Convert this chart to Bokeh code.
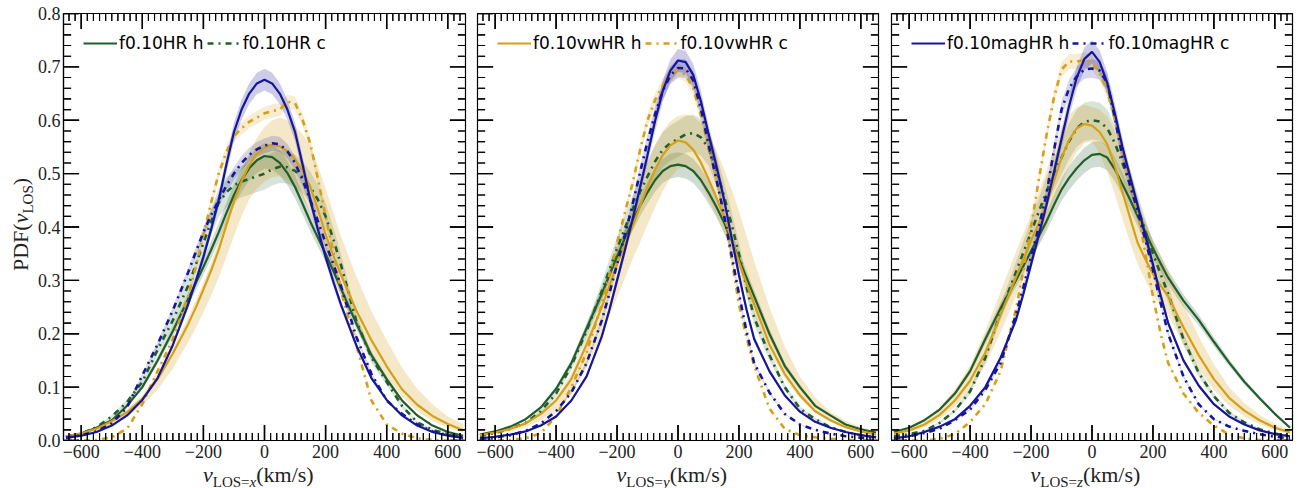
from bokeh.plotting import figure
from bokeh.models import Range1d, FixedTicker, LinearAxis, Legend, LegendItem, NumeralTickFormatter, Div
from bokeh.layouts import row, column
from bokeh.embed import file_html
from bokeh.resources import INLINE

# ---------------- data ----------------
V = [-650, -600, -550, -500, -450, -400, -350, -300,
     -250, -225, -200, -175, -150, -125, -100, -75, -50, -25, 0, 25, 50, 75, 100, 125, 150, 175, 200, 225, 250,
     300, 350, 400, 450, 500, 550, 600, 650]

# LOS = x
x_HR_h = [0.008, 0.013, 0.024, 0.038, 0.065, 0.10, 0.15, 0.205,
          0.265, 0.295, 0.325, 0.357, 0.39, 0.426, 0.46, 0.488, 0.51, 0.525, 0.533, 0.531, 0.52, 0.501, 0.475,
          0.443, 0.41, 0.38, 0.35, 0.318, 0.285,
          0.22, 0.16, 0.115, 0.075, 0.047, 0.028, 0.016, 0.009]
x_HR_c = [0.007, 0.013, 0.025, 0.045, 0.072, 0.11, 0.17, 0.225,
          0.29, 0.329, 0.37, 0.41, 0.445, 0.465, 0.478, 0.485, 0.49, 0.495, 0.50, 0.508, 0.513, 0.512, 0.505,
          0.493, 0.475, 0.451, 0.42, 0.378, 0.33,
          0.225, 0.155, 0.11, 0.065, 0.034, 0.02, 0.012, 0.007]
x_vw_h = [0.008, 0.013, 0.022, 0.036, 0.053, 0.078, 0.115, 0.163,
          0.218, 0.249, 0.283, 0.318, 0.357, 0.403, 0.448, 0.486, 0.516, 0.537, 0.549, 0.554, 0.551, 0.542, 0.527,
          0.505, 0.475, 0.432, 0.386, 0.347, 0.311,
          0.244, 0.188, 0.139, 0.096, 0.067, 0.046, 0.031, 0.019]
x_vw_h_hi = [0.009, 0.015, 0.025, 0.04, 0.058, 0.085, 0.124, 0.173,
             0.23, 0.262, 0.296, 0.332, 0.372, 0.419, 0.465, 0.505, 0.54, 0.567, 0.587, 0.600, 0.605, 0.600, 0.589,
             0.574, 0.551, 0.515, 0.472, 0.427, 0.383,
             0.308, 0.242, 0.188, 0.137, 0.097, 0.068, 0.045, 0.031]
x_vw_h_lo = [0.0065, 0.011, 0.018, 0.029, 0.044, 0.065, 0.095, 0.135,
             0.184, 0.211, 0.24, 0.271, 0.305, 0.344, 0.383, 0.42, 0.452, 0.472, 0.485, 0.493, 0.495, 0.489, 0.475,
             0.455, 0.428, 0.391, 0.351, 0.313, 0.277,
             0.216, 0.163, 0.119, 0.082, 0.055, 0.036, 0.024, 0.015]
x_vw_c = [0.0, 0.0, 0.001, 0.006, 0.022, 0.068, 0.13, 0.19,
          0.27, 0.325, 0.385, 0.445, 0.50, 0.54, 0.57, 0.585, 0.597, 0.605, 0.613, 0.617, 0.62, 0.635, 0.632,
          0.60, 0.556, 0.49, 0.42, 0.355, 0.28,
          0.18, 0.075, 0.03, 0.013, 0.004, 0.001, 0.0, 0.0]
x_mag_h = [0.005, 0.009, 0.016, 0.028, 0.047, 0.076, 0.117, 0.179,
           0.255, 0.298, 0.344, 0.395, 0.45, 0.516, 0.578, 0.62, 0.65, 0.669, 0.676, 0.669, 0.65, 0.62, 0.578,
           0.516, 0.45, 0.395, 0.344, 0.298, 0.255,
           0.179, 0.117, 0.076, 0.047, 0.028, 0.016, 0.009, 0.005]
x_mag_c = [0.005, 0.01, 0.017, 0.032, 0.062, 0.122, 0.18, 0.244,
           0.315, 0.353, 0.39, 0.422, 0.45, 0.477, 0.50, 0.52, 0.535, 0.5455, 0.552, 0.557, 0.555, 0.542, 0.52,
           0.488, 0.45, 0.411, 0.37, 0.331, 0.29,
           0.195, 0.125, 0.075, 0.05, 0.03, 0.017, 0.01, 0.006]

# LOS = y
y_HR_h = [0.011, 0.017, 0.026, 0.04, 0.062, 0.097, 0.145, 0.21,
          0.275, 0.31, 0.345, 0.378, 0.41, 0.439, 0.465, 0.488, 0.505, 0.514, 0.517, 0.514, 0.505, 0.488, 0.465,
          0.439, 0.41, 0.376, 0.34, 0.305, 0.27,
          0.20, 0.14, 0.10, 0.065, 0.047, 0.03, 0.021, 0.015]
y_HR_c = [0.009, 0.014, 0.022, 0.033, 0.055, 0.088, 0.14, 0.205,
          0.28, 0.32, 0.36, 0.397, 0.432, 0.465, 0.495, 0.523, 0.545, 0.557, 0.565, 0.5735, 0.576, 0.568, 0.548,
          0.509, 0.46, 0.407, 0.35, 0.2875, 0.23,
          0.16, 0.10, 0.06, 0.04, 0.025, 0.016, 0.01, 0.006]
y_vw_h = [0.01, 0.015, 0.022, 0.032, 0.05, 0.075, 0.115, 0.18,
          0.25, 0.29, 0.33, 0.365, 0.40, 0.438, 0.475, 0.508, 0.535, 0.553, 0.562, 0.5586, 0.545, 0.521, 0.49,
          0.457, 0.42, 0.378, 0.335, 0.294, 0.255,
          0.18, 0.125, 0.085, 0.055, 0.038, 0.025, 0.017, 0.011]
y_vw_h_hi = [0.011, 0.016, 0.024, 0.035, 0.054, 0.082, 0.125, 0.195,
             0.27, 0.315, 0.36, 0.401, 0.44, 0.481, 0.52, 0.553, 0.58, 0.598, 0.608, 0.611, 0.607, 0.595, 0.575,
             0.5455, 0.51, 0.472, 0.43, 0.383, 0.336,
             0.25, 0.176, 0.12, 0.081, 0.054, 0.037, 0.025, 0.016]
y_vw_h_lo = [0.0074, 0.0116, 0.017, 0.025, 0.038, 0.057, 0.088, 0.136,
             0.199, 0.233, 0.268, 0.303, 0.338, 0.371, 0.404, 0.437, 0.467, 0.492, 0.509, 0.512, 0.504, 0.482, 0.453,
             0.423, 0.389, 0.35, 0.31, 0.272, 0.236,
             0.167, 0.116, 0.079, 0.051, 0.035, 0.023, 0.016, 0.010]
y_vw_c = [0.0, 0.0, 0.001, 0.004, 0.014, 0.045, 0.10, 0.165,
          0.255, 0.311, 0.37, 0.425, 0.48, 0.543, 0.60, 0.638, 0.665, 0.685, 0.693, 0.685, 0.66, 0.61, 0.55,
          0.494, 0.43, 0.342, 0.255, 0.192, 0.14,
          0.06, 0.022, 0.01, 0.006, 0.003, 0.001, 0.0, 0.0]
y_mag_h = [0.004, 0.007, 0.011, 0.017, 0.028, 0.045, 0.075, 0.12,
           0.195, 0.245, 0.30, 0.355, 0.412, 0.473, 0.535, 0.599, 0.655, 0.693, 0.712, 0.709, 0.685, 0.636, 0.575,
           0.517, 0.455, 0.3825, 0.31, 0.245, 0.19,
           0.13, 0.085, 0.054, 0.035, 0.024, 0.016, 0.01, 0.006]
y_mag_c = [0.004, 0.006, 0.01, 0.018, 0.032, 0.055, 0.09, 0.145,
           0.225, 0.276, 0.33, 0.384, 0.44, 0.501, 0.56, 0.612, 0.655, 0.684, 0.698, 0.697, 0.675, 0.622, 0.555,
           0.492, 0.425, 0.35, 0.275, 0.204, 0.145,
           0.09, 0.05, 0.03, 0.02, 0.013, 0.008, 0.005, 0.003]

# LOS = z
z_HR_h = [0.016, 0.024, 0.038, 0.058, 0.088, 0.13, 0.19, 0.248,
          0.30, 0.327, 0.355, 0.382, 0.41, 0.441, 0.47, 0.492, 0.51, 0.525, 0.535, 0.537, 0.53, 0.508, 0.48,
          0.451, 0.42, 0.39, 0.36, 0.332, 0.305,
          0.262, 0.226, 0.185, 0.146, 0.11, 0.079, 0.05, 0.024]
z_HR_c = [0.008, 0.012, 0.018, 0.033, 0.056, 0.092, 0.155, 0.24,
          0.315, 0.3525, 0.39, 0.428, 0.465, 0.499, 0.53, 0.561, 0.585, 0.597, 0.60, 0.5975, 0.585, 0.557, 0.52,
          0.479, 0.435, 0.393, 0.35, 0.312, 0.275,
          0.19, 0.127, 0.083, 0.052, 0.034, 0.021, 0.013, 0.008]
z_vw_h = [0.013, 0.019, 0.03, 0.048, 0.075, 0.112, 0.165, 0.235,
          0.305, 0.34, 0.375, 0.406, 0.44, 0.486, 0.53, 0.563, 0.585, 0.593, 0.59, 0.578, 0.555, 0.514, 0.465,
          0.417, 0.37, 0.34, 0.312, 0.29, 0.27,
          0.212, 0.16, 0.115, 0.08, 0.056, 0.038, 0.024, 0.015]
z_vw_h_hi = [0.017, 0.024, 0.039, 0.062, 0.095, 0.141, 0.205, 0.279,
             0.353, 0.388, 0.424, 0.464, 0.505, 0.548, 0.585, 0.61, 0.625, 0.629, 0.625, 0.62, 0.607, 0.579, 0.541,
             0.4935, 0.45, 0.41, 0.375, 0.345, 0.32,
             0.255, 0.195, 0.143, 0.10, 0.07, 0.048, 0.031, 0.02]
z_vw_h_lo = [0.011, 0.016, 0.025, 0.04, 0.063, 0.095, 0.141, 0.203,
             0.27, 0.304, 0.337, 0.367, 0.398, 0.439, 0.48, 0.514, 0.54, 0.557, 0.56, 0.538, 0.503, 0.461, 0.415,
             0.371, 0.33, 0.30, 0.272, 0.252, 0.235,
             0.18, 0.134, 0.095, 0.065, 0.045, 0.03, 0.019, 0.012]
z_vw_c = [0.0, 0.0, 0.0, 0.003, 0.012, 0.035, 0.068, 0.13,
          0.245, 0.319, 0.40, 0.487, 0.57, 0.642, 0.695, 0.71, 0.71, 0.713, 0.708, 0.689, 0.655, 0.601, 0.54,
          0.488, 0.43, 0.351, 0.27, 0.201, 0.145,
          0.088, 0.052, 0.028, 0.011, 0.004, 0.001, 0.0, 0.0]
z_mag_h = [0.004, 0.008, 0.016, 0.026, 0.04, 0.065, 0.10, 0.155,
           0.225, 0.275, 0.33, 0.384, 0.44, 0.502, 0.565, 0.627, 0.68, 0.715, 0.728, 0.7095, 0.67, 0.613, 0.55,
           0.494, 0.44, 0.385, 0.33, 0.2725, 0.22,
           0.15, 0.103, 0.068, 0.045, 0.03, 0.019, 0.012, 0.008]
z_mag_c = [0.004, 0.008, 0.014, 0.022, 0.038, 0.058, 0.095, 0.145,
           0.235, 0.288, 0.345, 0.399, 0.46, 0.543, 0.62, 0.66, 0.682, 0.695, 0.697, 0.693, 0.67, 0.605, 0.53,
           0.478, 0.43, 0.376, 0.32, 0.258, 0.20,
           0.12, 0.068, 0.04, 0.026, 0.018, 0.012, 0.007, 0.004]

# relative half-width of the shaded uncertainty bands
band_frac = {"HR_h": 0.045, "HR_c": 0.06, "vw_c": 0.02, "mag_h": 0.03, "mag_c": 0.025}

model_names = {"HR": "f0.10HR", "vw": "f0.10vwHR", "mag": "f0.10magHR"}
x_major = [-600, -400, -200, 0, 200, 400, 600]
y_major = [0.0, 0.1, 0.2, 0.3, 0.4, 0.5, 0.6, 0.7, 0.8]

PANELS = {
    "x": {"HR_h": x_HR_h, "HR_c": x_HR_c, "vw_h": x_vw_h, "vw_c": x_vw_c, "mag_h": x_mag_h, "mag_c": x_mag_c,
          "vw_lo": x_vw_h_lo, "vw_hi": x_vw_h_hi},
    "y": {"HR_h": y_HR_h, "HR_c": y_HR_c, "vw_h": y_vw_h, "vw_c": y_vw_c, "mag_h": y_mag_h, "mag_c": y_mag_c,
          "vw_lo": y_vw_h_lo, "vw_hi": y_vw_h_hi},
    "z": {"HR_h": z_HR_h, "HR_c": z_HR_c, "vw_h": z_vw_h, "vw_c": z_vw_c, "mag_h": z_mag_h, "mag_c": z_mag_c,
          "vw_lo": z_vw_h_lo, "vw_hi": z_vw_h_hi},
}

# ---------------- styling ----------------
COL = {"HR": "#225e2c", "vw": "#d4a017", "mag": "#16169a"}
BAND_ALPHA = {"HR": 0.22, "vw": 0.24, "mag": 0.22}
DASH = "6 5 2 5"
SERIF = "Liberation Serif"
SANS = "DejaVu Sans"
TXT = "#222222"
XR = (-658, 658)
YR = (0.0, 0.8)
FH = 427           # frame height (px)
TOP, BOT = 13, 24  # borders
PH = TOP + FH + BOT

x_minor = [t for t in range(-640, 641, 20) if t not in x_major]
y_minor = [i / 50 for i in range(0, 41) if i % 5 != 0]


def add_ticks(p, fw):
    """inward ticks on all four sides, kept strictly inside the frame; drawn as filled combs and segments"""
    ux = (XR[1] - XR[0]) / fw   # data units per pixel (x)
    uy = (YR[1] - YR[0]) / FH   # data units per pixel (y)
    ex, ey = 0.6 * ux, 0.6 * uy  # keep clear of the frame edge
    for ticks, ln, w in ((x_minor, 7, 1.1), (x_major, 15, 1.4)):
        hw = 0.5 * w * ux
        for base, sgn in ((YR[0] + ey, 1), (YR[1] - ey, -1)):
            tip = base + sgn * ln * uy
            xs, y1, y2 = [], [], []
            for t in ticks:
                xs += [t - hw, t - hw, t + hw, t + hw]
                y1 += [base, base, base, base]
                y2 += [base, tip, tip, base]
            p.varea(x=xs, y1=y1, y2=y2, fill_color="black")
            p.segment(x0=ticks, x1=ticks, y0=[base] * len(ticks), y1=[tip] * len(ticks),
                      line_color="black", line_width=w)
    for ticks, ln, w in ((y_minor, 7, 1.1), (y_major, 15, 1.4)):
        hw = 0.5 * w * uy
        for base, sgn in ((XR[0] + ex, 1), (XR[1] - ex, -1)):
            tip = base + sgn * ln * ux
            ys, x1, x2 = [], [], []
            for t in ticks:
                ys += [t - hw, t - hw, t + hw, t + hw]
                x1 += [base, base, base, base]
                x2 += [base, tip, tip, base]
            p.harea(y=ys, x1=x1, x2=x2, fill_color="black")
            p.segment(y0=ticks, y1=ticks, x0=[base] * len(ticks), x1=[tip] * len(ticks),
                      line_color="black", line_width=w)


def base_axis(ax):
    ax.major_tick_in = 0
    ax.major_tick_out = 0
    ax.minor_tick_in = 0
    ax.minor_tick_out = 0
    ax.axis_line_color = "black"
    ax.axis_line_width = 1.2
    ax.major_label_text_font = SERIF
    ax.major_label_text_font_size = "18px"
    ax.major_label_text_line_height = 1.0
    ax.major_label_text_color = TXT


def make_panel(los, fw, bl, br, legend_model, first):
    p = figure(width=bl + fw + br, height=PH, x_range=Range1d(*XR), y_range=Range1d(*YR), title=None,
               output_backend="svg", toolbar_location=None, x_axis_location=None, y_axis_location=None,
               min_border_left=bl, min_border_right=br, min_border_top=TOP, min_border_bottom=BOT)
    p.xgrid.visible = False
    p.ygrid.visible = False
    p.outline_line_color = "black"
    p.outline_line_width = 1.2
    p.background_fill_color = "white"
    p.border_fill_color = "white"

    d = PANELS[los]
    for m in ["HR", "vw", "mag"]:
        for kind in ["h", "c"]:
            key = f"{m}_{kind}"
            vals = d[key]
            if key == "vw_h":
                lo, hi = d["vw_lo"], d["vw_hi"]
            else:
                f = band_frac[key]
                lo = [v * (1 - f) for v in vals]
                hi = [v * (1 + f) for v in vals]
            p.varea(x=V, y1=lo, y2=hi, fill_color=COL[m],
                    fill_alpha=BAND_ALPHA[m] * (0.8 if kind == "c" else 1.0))
    rend = {}
    for m in ["HR", "vw", "mag"]:
        rend[(m, "h")] = p.line(V, d[f"{m}_h"], line_color=COL[m], line_width=2.2)
        rend[(m, "c")] = p.line(V, d[f"{m}_c"], line_color=COL[m], line_width=2.6, line_dash=DASH)

    add_ticks(p, fw)

    bottom = LinearAxis(ticker=FixedTicker(ticks=x_major))
    base_axis(bottom)
    bottom.major_label_overrides = {t: (str(t) if t >= 0 else "\u2212" + str(-t)) for t in x_major}
    bottom.major_label_standoff = 4
    p.add_layout(bottom, "below")

    if first:
        left = LinearAxis(ticker=FixedTicker(ticks=y_major), formatter=NumeralTickFormatter(format="0.0"))
        base_axis(left)
        left.major_label_standoff = 3
        p.add_layout(left, "left")

    leg = Legend(items=[LegendItem(label=f"{model_names[legend_model]} h", renderers=[rend[(legend_model, 'h')]]),
                        LegendItem(label=f"{model_names[legend_model]} c", renderers=[rend[(legend_model, 'c')]])],
                 orientation="horizontal", location="top_left", border_line_color=None,
                 background_fill_alpha=0, label_text_font=SANS, label_text_font_size="17px",
                 label_text_color="black", glyph_width=34, glyph_height=20, label_standoff=2,
                 spacing=3, padding=10, margin=20)
    p.add_layout(leg)
    return p


YLW = 34
p1 = make_panel("x", 402, 63 - YLW, 6, "HR", True)
p2 = make_panel("y", 401, 6, 6, "vw", False)
p3 = make_panel("z", 401, 7, 7, "mag", False)

# y-axis label  PDF(v_LOS), rotated (HTML text)
ylab_html = (
    f'<div style="position:relative;width:{YLW}px;height:{PH}px;overflow:hidden;">'
    f'<div style="position:absolute;left:10px;top:271px;transform:rotate(-90deg);transform-origin:0 0;'
    f'white-space:nowrap;font-family:\'{SERIF}\';font-size:22px;line-height:22px;color:{TXT};">'
    f'PDF(<i>v</i><sub style="font-size:15px;">LOS</sub>)</div></div>'
)
yl = Div(text=ylab_html, width=YLW, height=PH, margin=0)

# x-axis labels  v_{LOS=x}(km/s) under each panel (HTML text)
XLH = 488 - PH
spans = []
for los, cx in (("x", 264), ("y", 677.5), ("z", 1091.5)):
    spans.append(
        f'<div style="position:absolute;left:{cx - 61}px;top:2px;white-space:nowrap;'
        f'font-family:\'{SERIF}\';font-size:22px;line-height:17px;color:{TXT};">'
        f'<i>v</i><sub style="font-size:15px;line-height:12px;">LOS=<i>{los}</i></sub>(km/s)</div>'
    )
xlab_html = f'<div style="position:relative;width:1299px;height:{XLH}px;overflow:hidden;">' + "".join(spans) + "</div>"
xl = Div(text=xlab_html, width=1299, height=XLH, margin=0)

layout = column(row(yl, p1, p2, p3, spacing=0), xl, spacing=0)
open("out.html", "w").write(file_html(layout, INLINE))
